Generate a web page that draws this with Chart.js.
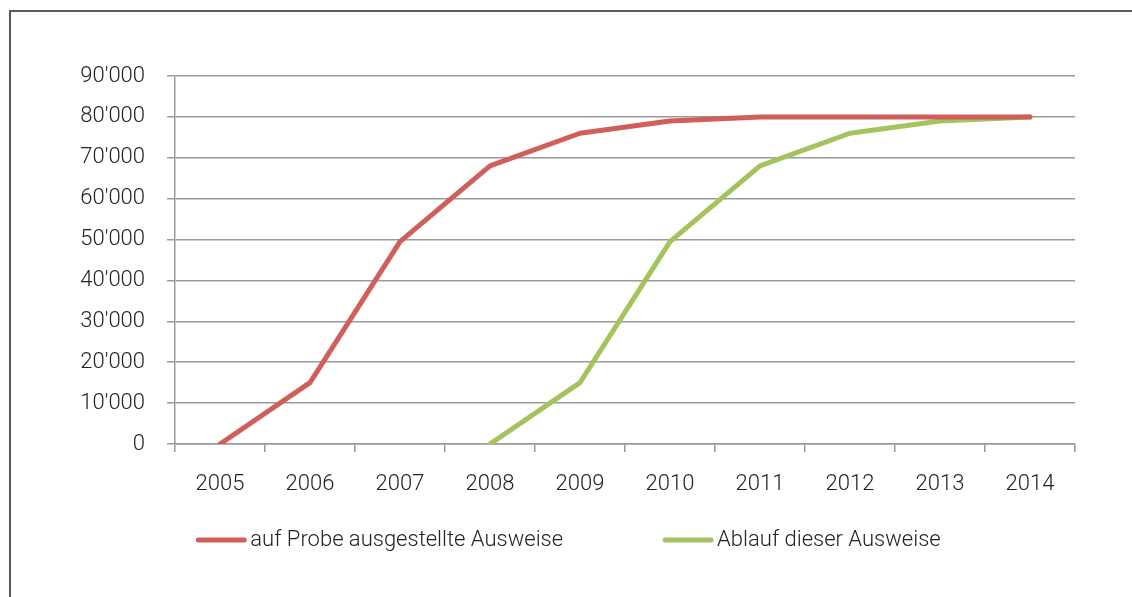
<!DOCTYPE html>
<html>
<head>
<meta charset="utf-8">
<script src="https://cdn.jsdelivr.net/npm/chart.js@4.4.0/dist/chart.umd.min.js"></script>
<style>
    html, body { margin: 0; padding: 0; background: #fff; }
    body { width: 1132px; height: 597px; position: relative; overflow: hidden; }
    #rahmen { position: absolute; left: 9px; top: 10px; width: 1200px; height: 700px; border: 2px solid #5a5a5a; }
    #wrap { position: absolute; left: 0; top: 0; width: 1132px; height: 597px; }
</style>
</head>
<body>
<div id="rahmen"></div>
<div id="wrap"><canvas id="myChart"></canvas></div>
<script>
// Jahre auf der x-Achse
let jahre = ["2005", "2006", "2007", "2008", "2009", "2010", "2011", "2012", "2013", "2014"];
// auf Probe ausgestellte Ausweise (kumuliert)
let probeAusweise = [0, 15000, 49500, 68000, 76000, 79000, 80000, 80000, 80000, 80000];
// Ablauf dieser Ausweise
let ablaufAusweise = [null, null, null, 0, 15000, 49500, 68000, 76000, 79000, 80000];
let serienNamen = ["auf Probe ausgestellte Ausweise", "Ablauf dieser Ausweise"];
let farben = ["#cf5f58", "#a4c35c"];
let yMax = 90000;
let yStep = 10000;

//Tausender mit Apostroph
function formatZahl(v) {
    return String(v).replace(/\B(?=(\d{3})+(?!\d))/g, "'");
}

Chart.defaults.font.family = "Roboto, 'Liberation Sans', sans-serif";
Chart.defaults.font.weight = 300;
Chart.defaults.font.size = 22;
Chart.defaults.color = "#222";

//Legende unten, eigene Abstände (Linie - Text 4px, zwischen Einträgen ~100px)
const legendeUnten = {
    id: "legendeUnten",
    afterDraw(chart) {
        const c = chart.ctx;
        const boxW = 50, gap = 4, itemGap = 100, y = 540;
        c.save();
        c.font = "300 22px Roboto, 'Liberation Sans', sans-serif";
        c.textBaseline = "middle";
        const items = chart.data.datasets.map((ds) => ({ ds: ds, w: c.measureText(ds.label).width }));
        let total = 0;
        items.forEach((it, i) => { total += boxW + gap + it.w + (i > 0 ? itemGap : 0); });
        let x = 568.5 - total / 2;
        items.forEach((it) => {
            c.strokeStyle = it.ds.borderColor;
            c.lineWidth = 5;
            c.lineCap = "round";
            c.beginPath();
            c.moveTo(x + 2, y);
            c.lineTo(x + boxW - 2, y);
            c.stroke();
            c.fillStyle = "#222";
            c.fillText(it.ds.label, x + boxW + gap, y);
            x += boxW + gap + it.w + itemGap;
        });
        c.restore();
    },
};

var ctx = document.getElementById("myChart").getContext("2d");
var chart = new Chart(ctx, {
    type: "line",
    data: {
        labels: jahre,
        datasets: [
            {
                label: serienNamen[0],
                data: probeAusweise,
                borderColor: farben[0],
                backgroundColor: farben[0],
            },
            {
                label: serienNamen[1],
                data: ablaufAusweise,
                borderColor: farben[1],
                backgroundColor: farben[1],
            },
        ],
    },
    options: {
        responsive: true,
        maintainAspectRatio: false,
        animation: false,
        elements: {
            line: { borderWidth: 5, tension: 0, borderCapStyle: "round", borderJoinStyle: "round" },
            point: { radius: 0, hoverRadius: 0 },
        },
        layout: { padding: { left: 0, right: 57, top: 76, bottom: 83 } },
        scales: {
            x: {
                offset: true,
                grid: { offset: true, drawOnChartArea: false, color: "#9a9a9a", lineWidth: 1.5, tickLength: 8 },
                border: { color: "#9a9a9a", width: 1.5 },
                ticks: { padding: 19, maxRotation: 0 },
                afterFit: function (scale) { scale.height = 70; },
            },
            y: {
                min: 0,
                max: yMax,
                grid: { color: "#9a9a9a", lineWidth: 1.5, tickLength: 8 },
                border: { color: "#9a9a9a", width: 1.5 },
                ticks: { stepSize: yStep, padding: 22, callback: (v) => formatZahl(v) },
                afterFit: function (scale) { scale.width = 175; },
            },
        },
        plugins: {
            legend: { display: false },
            tooltip: { enabled: false },
        },
    },
    plugins: [legendeUnten],
});
</script>
</body>
</html>
